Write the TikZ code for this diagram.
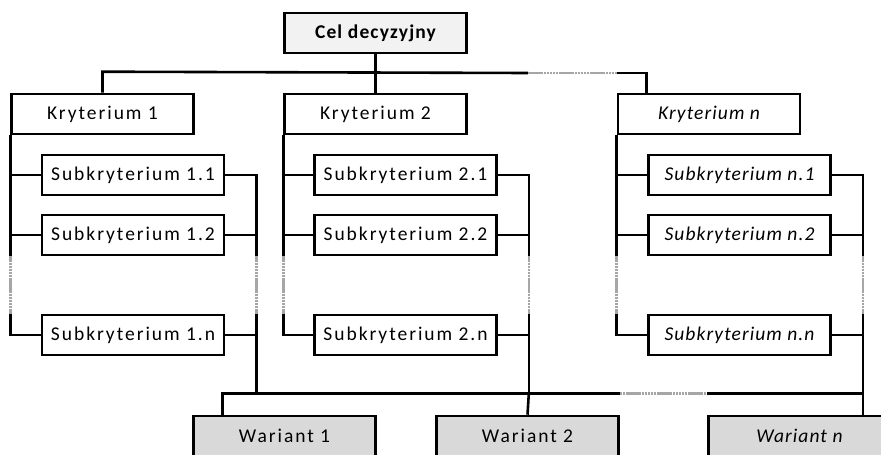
\documentclass[tikz,border=0pt]{standalone}
\usepackage{fontspec}
\setmainfont{Carlito}
\newfontfamily\boxfont{Carlito}[LetterSpace=10]
\newfontfamily\itfont{Carlito}[LetterSpace=5.5]
\newfontfamily\celfont{Carlito}[LetterSpace=6]
\definecolor{CelGray}{RGB}{242,242,242}
\definecolor{WarGray}{RGB}{217,217,217}

\begin{document}
\begin{tikzpicture}[x=1pt, y=-1pt, line width=2.6pt,
    box/.style={draw, minimum width=182pt, minimum height=40pt, inner sep=0pt,
      font=\boxfont\fontsize{19.5}{22}\selectfont},
    itbox/.style={box, font=\itfont\itshape\fontsize{19.5}{22}\selectfont},
    celbox/.style={box, fill=CelGray, font=\celfont\bfseries\fontsize{19.5}{22}\selectfont},
    wbox/.style={box, fill=WarGray},
    gap/.style={draw=gray!70, dash pattern=on 2.5pt off 0.6pt}]
  \useasboundingbox (0,0) rectangle (881,455);
  \clip (0,0) rectangle (881,455);

  \node[celbox] (cel) at (375.5,33) {Cel decyzyjny};

  \node[box] (k1) at (102.5,114) {Kryterium 1};
  \node[box] (k2) at (375.5,114) {Kryterium 2};
  \node[itbox] (kn) at (709,114) {Kryterium n};

  \node[box] (s11) at (133,175) {Subkryterium 1.1};
  \node[box] (s12) at (133,235) {Subkryterium 1.2};
  \node[box] (s1n) at (133,335) {Subkryterium 1.n};
  \node[box] (s21) at (405.5,175) {Subkryterium 2.1};
  \node[box] (s22) at (405.5,235) {Subkryterium 2.2};
  \node[box] (s2n) at (405.5,335) {Subkryterium 2.n};
  \node[itbox] (sn1) at (739.5,175) {Subkryterium n.1};
  \node[itbox] (sn2) at (739.5,235) {Subkryterium n.2};
  \node[itbox] (snn) at (739.5,335) {Subkryterium n.n};

  \node[wbox] (w1) at (284.5,436) {Wariant 1};
  \node[wbox] (w2) at (527.5,436) {Wariant 2};
  \node[wbox, itbox, fill=WarGray] (wn) at (799.5,436) {Wariant n};

  % cel -> kryteria
  \path (k1.north) ++(0,-21) coordinate (t1);
  \path (kn.north west) ++(30,0) coordinate (tn);
  \coordinate (ga) at (528,73);
  \coordinate (gb) at (617,73);
  \draw (cel) -- (k2);
  \draw (k1.north) -- (t1) -- (ga);
  \draw[gap] (ga) -- (gb);
  \draw (gb) -| (tn);

  % szyna wariantow
  \path (w1.north west) ++(30,-21) coordinate (b1);

  % kryteria -> subkryteria -> warianty
  \foreach \c in {1,2,n} {
    \path (s\c1.east) ++(31,0) coordinate (r\c);
    \draw (k\c.south west) -- (k\c.west |- s\c2.south);
    \draw[gap] (k\c.west |- s\c2.south) -- (k\c.west |- s\c n.north);
    \draw (k\c.west |- s\c n.north) |- (s\c n.west);
    \draw (s\c1.west) -- (s\c1 -| k\c.west);
    \draw (s\c2.west) -- (s\c2 -| k\c.west);
    \draw (s\c1.east) -- (r\c) -- (r\c |- s\c2.south);
    \draw[gap] (r\c |- s\c2.south) -- (r\c |- s\c n.north);
    \draw (r\c |- s\c n.north) -- (r\c |- b1);
    \draw (s\c2.east) -- (s\c2 -| r\c);
    \draw (s\c n.east) -- (s\c n -| r\c);
  }
  \draw (r2 |- b1) -- (w2.north);
  \draw (rn |- b1) -- (rn |- wn.north);
  \draw (w1.north -| b1) -- (b1) -- (w2.north east |- b1);
  \draw[gap] (w2.north east |- b1) -- (wn.north west |- b1);
  \draw (wn.north west |- b1) -- (rn |- b1);
\end{tikzpicture}
\end{document}
